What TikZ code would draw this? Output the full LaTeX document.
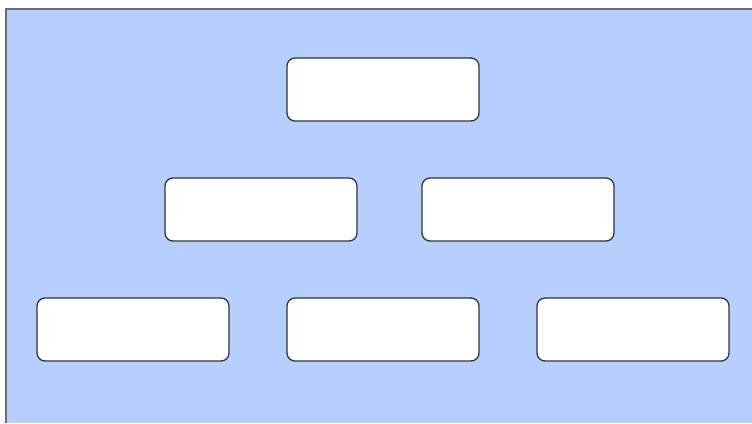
\documentclass[tikz,border=0pt]{standalone}
\usepackage{tikz}
\usetikzlibrary{positioning}
\definecolor{bgblue}{RGB}{182,207,255}
\definecolor{boxline}{RGB}{51,51,51}
\definecolor{frameline}{RGB}{110,110,110}

\begin{document}
\begin{tikzpicture}[x=1pt, y=1pt, node distance=57pt,
    block/.style={rectangle, draw=boxline, fill=white, line width=1.3pt, rounded corners=8pt, minimum width=192pt, minimum height=63pt, inner sep=0pt, outer sep=0pt},
    frame/.style={draw=frameline, line width=1.5pt}]
    \useasboundingbox (0,0) rectangle (752,-423);

    % background panel
    \coordinate (bgtl) at (6,-9);
    \coordinate (bgbr) at (752,-423);
    \fill [bgblue] (bgtl) rectangle (bgbr);
    \draw [frame] (bgtl |- bgbr) -- (bgtl) -- (bgtl -| bgbr);

    % tree of boxes
    \node [block] (root) at (383,-89.5) {};
    \node [block] (midl) at (261,-209.5) {};
    \node [block, right=65pt of midl] (midr) {};
    \node [block] (leafa) at (133,-329.5) {};
    \node [block, right=58pt of leafa] (leafb) {};
    \node [block, right=58pt of leafb] (leafc) {};
\end{tikzpicture}
\end{document}
